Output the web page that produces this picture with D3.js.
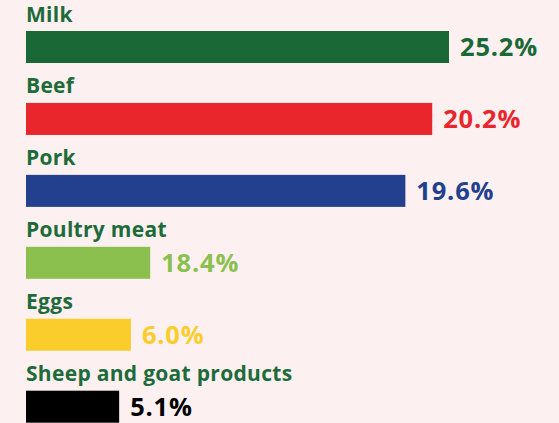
<!DOCTYPE html>
<html><head><meta charset="utf-8">
<script src="https://cdn.jsdelivr.net/npm/d3@7"></script>
<style>
html,body{margin:0;padding:0;background:#fcf0f0;}
svg{display:block;}
text{font-family:"Open Sans",sans-serif;font-weight:700;}
</style></head>
<body>
<svg id="chart" width="559" height="423"></svg>
<script>
const categories = ["Milk","Beef","Pork","Poultry meat","Eggs","Sheep and goat products"];
const shareLabels = ["25.2%","20.2%","19.6%","18.4%","6.0%","5.1%"];
// bar lengths as drawn in the picture (estimated, relative units)
const barLengths = [25.2, 24.2, 22.6, 7.4, 6.25, 5.55];
const colors = ["#1a6836","#e8262b","#22408e","#8bc04f","#fbcd2c","#000000"];

const svg = d3.select("#chart");
const W = 559, H = 423;
svg.append("rect").attr("width",W).attr("height",H).attr("fill","#fcf0f0");

const x = d3.scaleLinear().domain([0, 25.2]).range([26, 449]);
const y = d3.scaleBand().domain(categories).range([31, 422.7]).paddingInner(0.5552).paddingOuter(0);

const data = categories.map((c,i)=>({cat:c, label:shareLabels[i], len:barLengths[i], color:colors[i]}));

const g = svg.append("g");
g.selectAll("rect.bar").data(data).join("rect").attr("class","bar")
  .attr("x", x(0)).attr("y", d=>y(d.cat))
  .attr("width", d=>x(d.len)-x(0)).attr("height", y.bandwidth())
  .attr("fill", d=>d.color);

g.selectAll("text.cat").data(data).join("text").attr("class","cat")
  .attr("x", x(0)).attr("y", d=>y(d.cat)-9.5)
  .attr("fill","#1e6b3a").attr("font-size",21).attr("letter-spacing",0.3)
  .text(d=>d.cat);

g.selectAll("text.val").data(data).join("text").attr("class","val")
  .attr("x", d=>x(d.len)+11).attr("y", d=>y(d.cat)+y.bandwidth()/2)
  .attr("dy","0.36em")
  .attr("fill", d=>d.color).attr("font-size",25.5).attr("letter-spacing",0.8)
  .text(d=>d.label);
</script>
</body></html>
